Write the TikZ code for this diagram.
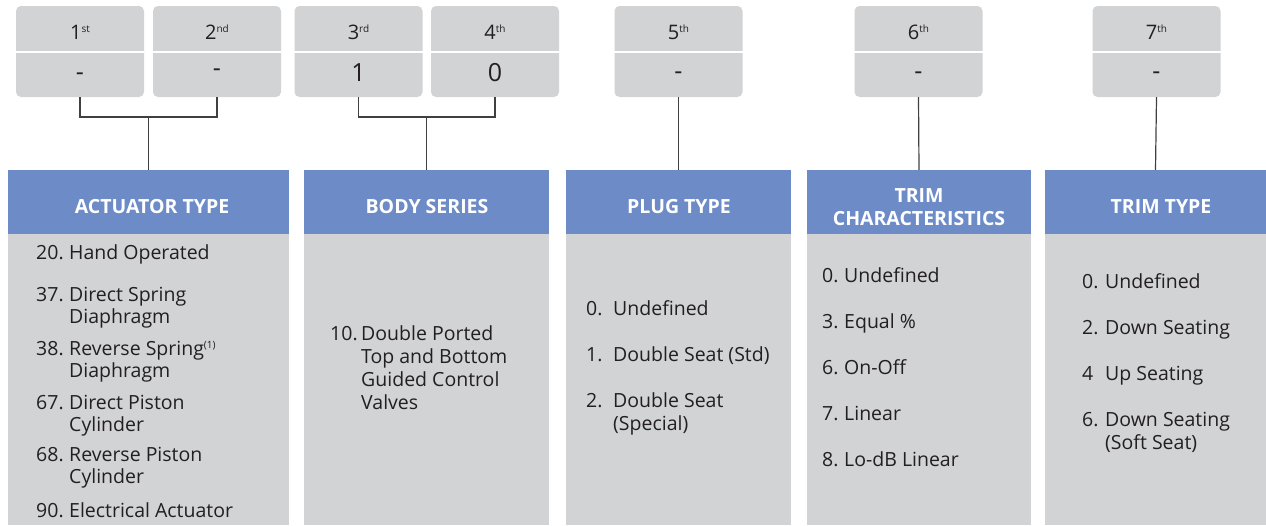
\documentclass[tikz,border=0pt]{standalone}
\usepackage{fontspec}
\setmainfont{Open Sans}
\definecolor{hblue}{RGB}{108,139,199}
\definecolor{bgray}{RGB}{209,211,212}
\definecolor{txt}{RGB}{35,31,32}
\definecolor{lgray}{RGB}{64,64,64}
\newcommand\sups[1]{\raisebox{7pt}{\fontsize{10}{10}\selectfont #1}}
\tikzset{
  topbox/.style={fill=bgray, rounded corners=5pt, minimum width=128pt, minimum height=91pt, inner sep=0pt, draw=none},
  toplbl/.style={text=txt, font=\fontsize{20}{20}\selectfont, inner sep=0pt},
  topval/.style={text=txt, font=\fontsize{25}{25}\selectfont, inner sep=0pt},
  hdr/.style={fill=hblue, inner sep=0pt, minimum height=64pt},
  hdrtxt/.style={text=white, font=\bfseries\fontsize{19.5}{23}\selectfont, align=center, inner sep=0pt},
  bdy/.style={fill=bgray, inner sep=0pt},
  itm/.style={text=txt, font=\fontsize{19.5}{22}\selectfont, anchor=base west, inner sep=0pt},
  conn/.style={draw=lgray, line width=1.2pt},
  divl/.style={draw=white, line width=2pt}
}
\begin{document}
\begin{tikzpicture}[x=1pt,y=-1pt]
\useasboundingbox (0,0) rectangle (1266,525);
% top boxes
\node[topbox] (t1) at (80,51.5) {};
\node[topbox] (t2) at (217,51.5) {};
\node[topbox] (t3) at (358.5,51.5) {};
\node[topbox] (t4) at (495,51.5) {};
\node[topbox] (t5) at (678.5,51.5) {};
\node[topbox] (t6) at (918.5,51.5) {};
\node[topbox] (t7) at (1156.5,51.5) {};
\foreach \n in {t1,t2,t3,t4,t5,t6,t7}{
  \draw[divl] (\n.west |- 0,52) -- (\n.east |- 0,52);
}
\node[toplbl] (l1) at (80,32) {1\sups{st}};
\node[toplbl] (l2) at (217,32) {2\sups{nd}};
\node[toplbl] (l3) at (358.5,32) {3\sups{rd}};
\node[toplbl] (l4) at (495,32) {4\sups{th}};
\node[toplbl] (l5) at (678.5,32) {5\sups{th}};
\node[toplbl] (l6) at (918.5,32) {6\sups{th}};
\node[toplbl] (l7) at (1156.5,32) {7\sups{th}};
\node[topval] (v1) at (80,77) {-};
\node[topval] (v2) at (217,73) {-};
\node[topval] (v3) at (358.5,73) {1};
\node[topval] (v4) at (495,73) {0};
\node[topval] (v5) at (678.5,76) {-};
\node[topval] (v6) at (918.5,76) {-};
\node[topval] (v7) at (1156.5,76) {-};
% headers and bodies
\node[hdr, minimum width=281pt] (h1) at (148.5,202) {};
\node[hdr, minimum width=245pt] (h2) at (426.5,202) {};
\node[hdr, minimum width=225pt] (h3) at (678.5,202) {};
\node[hdr, minimum width=224pt] (h4) at (919,202) {};
\node[hdr, minimum width=221pt] (h5) at (1155.5,202) {};
\node[hdrtxt] (h1l) at (152,207) {ACTUATOR TYPE};
\node[hdrtxt] (h2l) at (427,207) {BODY SERIES};
\node[hdrtxt] (h3l) at (679,207) {PLUG TYPE};
\node[hdrtxt] (h4l) at (919,207) {TRIM\\CHARACTERISTICS};
\node[hdrtxt] (h5l) at (1161,207) {TRIM TYPE};
\node[bdy, minimum width=281pt, minimum height=291pt, anchor=north] (b1) at (h1.south) {};
\node[bdy, minimum width=245pt, minimum height=291pt, anchor=north] (b2) at (h2.south) {};
\node[bdy, minimum width=225pt, minimum height=291pt, anchor=north] (b3) at (h3.south) {};
\node[bdy, minimum width=224pt, minimum height=291pt, anchor=north] (b4) at (h4.south) {};
\node[bdy, minimum width=221pt, minimum height=291pt, anchor=north] (b5) at (h5.south) {};
% connectors
\coordinate (j1) at (148.5,117);
\coordinate (j2) at (426.5,117);
\draw[conn] (t1.south) |- (j1) -| (t2.south);
\draw[conn] (j1) -- (h1.north);
\draw[conn] (t3.south) |- (j2) -| (t4.south);
\draw[conn] (j2) -- (h2.north);
\draw[conn] (t5.south) -- (h3.north);
\draw[conn] (t6.south) -- (h4.north);
\draw[conn] (t7.south) -- (h5.north);
% column 1
\node[itm] (a1n) at (36,259) {20.};
\node[itm] (a1t) at (69,259) {Hand Operated};
\node[itm] (a2n) at (36,301) {37.};
\node[itm] (a2t) at (69,301) {Direct Spring};
\node[itm] (a2u) at (69,323) {Diaphragm};
\node[itm] (a3n) at (36,355) {38.};
\node[itm] (a3t) at (69,355) {Reverse Spring\sups{(1)}};
\node[itm] (a3u) at (69,377) {Diaphragm};
\node[itm] (a4n) at (36,409) {67.};
\node[itm] (a4t) at (69,409) {Direct Piston};
\node[itm] (a4u) at (69,431) {Cylinder};
\node[itm] (a5n) at (36,461) {68.};
\node[itm] (a5t) at (69,461) {Reverse Piston};
\node[itm] (a5u) at (69,483) {Cylinder};
\node[itm] (a6n) at (36,517) {90.};
\node[itm] (a6t) at (69,517) {Electrical Actuator};
% column 2
\node[itm] (c1n) at (330,340) {10.};
\node[itm] (c1t) at (361,340) {Double Ported};
\node[itm] (c1u) at (361,363) {Top and Bottom};
\node[itm] (c1v) at (361,386) {Guided Control};
\node[itm] (c1w) at (361,409) {Valves};
% column 3
\node[itm] (p1n) at (586,315) {0.};
\node[itm] (p1t) at (613,315) {Undefined};
\node[itm] (p2n) at (586,361) {1.};
\node[itm] (p2t) at (613,361) {Double Seat (Std)};
\node[itm] (p3n) at (586,407) {2.};
\node[itm] (p3t) at (613,407) {Double Seat};
\node[itm] (p3u) at (613,430) {(Special)};
% column 4
\node[itm] (r1n) at (822,282) {0.};
\node[itm] (r1t) at (844,282) {Undefined};
\node[itm] (r2n) at (822,328) {3.};
\node[itm] (r2t) at (844,328) {Equal \%};
\node[itm] (r3n) at (822,374) {6.};
\node[itm] (r3t) at (844,374) {On-Off};
\node[itm] (r4n) at (822,420) {7.};
\node[itm] (r4t) at (844,420) {Linear};
\node[itm] (r5n) at (822,466) {8.};
\node[itm] (r5t) at (844,466) {Lo-dB Linear};
% column 5
\node[itm] (s1n) at (1082,288) {0.};
\node[itm] (s1t) at (1105,288) {Undefined};
\node[itm] (s2n) at (1082,334) {2.};
\node[itm] (s2t) at (1105,334) {Down Seating};
\node[itm] (s3n) at (1082,380) {4};
\node[itm] (s3t) at (1105,380) {Up Seating};
\node[itm] (s4n) at (1082,426) {6.};
\node[itm] (s4t) at (1105,426) {Down Seating};
\node[itm] (s4u) at (1105,449) {(Soft Seat)};
\end{tikzpicture}
\end{document}
